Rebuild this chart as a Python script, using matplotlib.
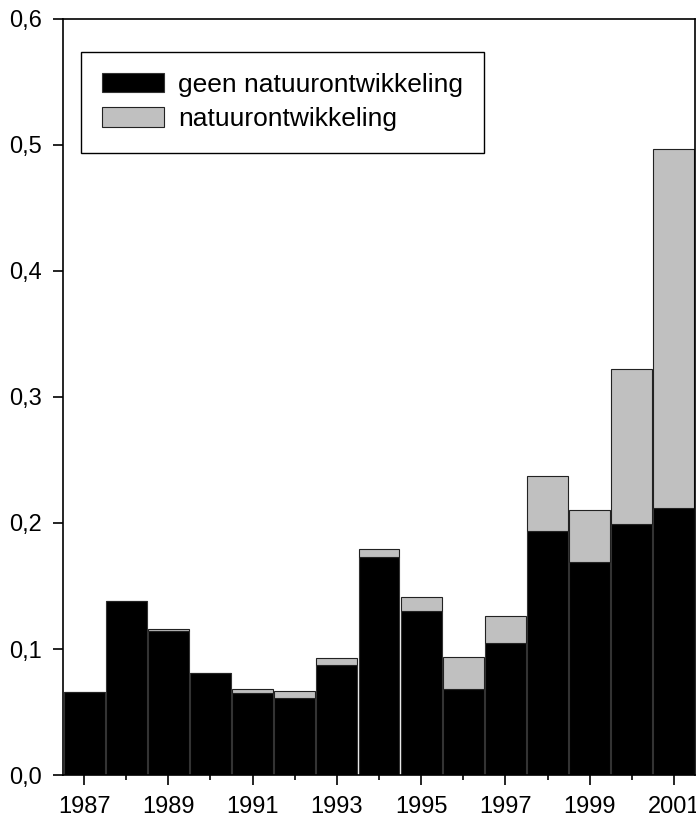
import numpy as np
import matplotlib
matplotlib.use("Agg")
import matplotlib.pyplot as plt
from matplotlib.ticker import FixedLocator, MultipleLocator, FuncFormatter

plt.rcParams['font.family'] = ['Liberation Sans', 'DejaVu Sans']

# data
years = np.arange(1987, 2002)
geen = [0.066, 0.138, 0.114, 0.081, 0.065, 0.061, 0.087, 0.173, 0.130, 0.068,
        0.105, 0.194, 0.169, 0.199, 0.212]
totaal = [0.066, 0.138, 0.116, 0.081, 0.068, 0.067, 0.093, 0.179, 0.141, 0.094,
          0.126, 0.237, 0.210, 0.322, 0.497]
natuur = [t - g for t, g in zip(totaal, geen)]

fig = plt.figure(figsize=(6.96, 8.22), dpi=100)
ax = fig.add_axes([63/696, 1-775/822, 632/696, 756/822])

ax.bar(years, geen, width=0.97, color='black', edgecolor='#333333', linewidth=0.8,
       label='geen natuurontwikkeling')
ax.bar(years, natuur, width=0.97, bottom=geen, color='#c0c0c0', edgecolor='#222222',
       linewidth=0.8, label='natuurontwikkeling')

ax.set_xlim(1986.5, 2001.5)
ax.set_ylim(0, 0.6)
ax.xaxis.set_major_locator(FixedLocator(years[::2]))
ax.xaxis.set_minor_locator(FixedLocator(years[1::2]))
ax.xaxis.set_major_formatter(FuncFormatter(lambda v, p: '%d' % v))
ax.yaxis.set_major_locator(MultipleLocator(0.1))
ax.yaxis.set_major_formatter(FuncFormatter(lambda v, p: ('%.1f' % v).replace('.', ',')))
ax.tick_params(axis='both', which='major', direction='out', length=7.2, width=1.2,
               labelsize=17, color='black')
ax.tick_params(axis='x', which='major', pad=8)
ax.tick_params(axis='y', which='major', pad=8)
ax.tick_params(axis='x', which='minor', direction='out', length=3.6, width=1.2)
for s in ax.spines.values():
    s.set_linewidth(1.2)

leg = ax.legend(loc='upper left', bbox_to_anchor=(0.028, 0.9567), borderaxespad=0,
                fontsize=19, frameon=True, fancybox=False, edgecolor='black',
                framealpha=1, handlelength=2.35, handleheight=0.76,
                handletextpad=0.53, labelspacing=0.4, borderpad=0.8)
leg.get_frame().set_linewidth(1.0)

fig.savefig('out.png', dpi=100)
